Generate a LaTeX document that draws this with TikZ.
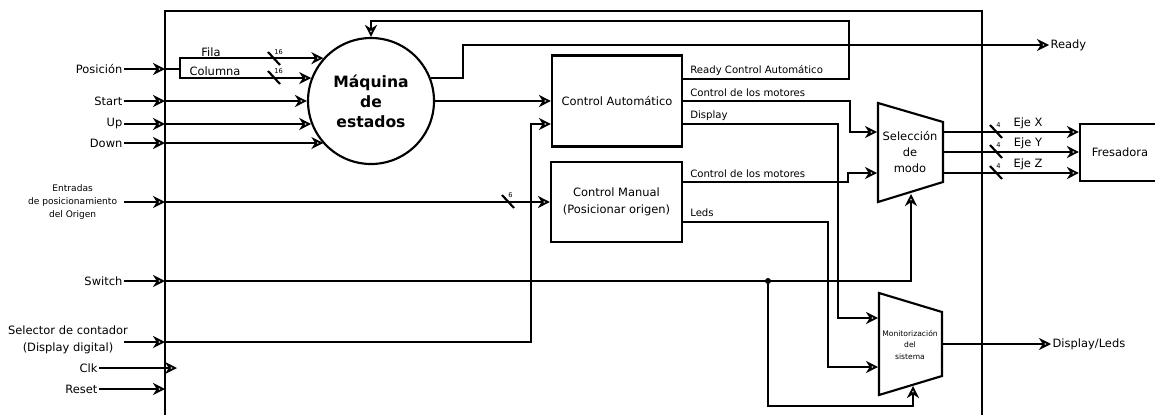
\documentclass[tikz,border=0pt]{standalone}
\usepackage{fontspec}
\setmainfont{DejaVu Sans}
\usetikzlibrary{arrows.meta,calc}
\tikzset{
  wire/.style={line width=1.6pt},
  sig/.style={wire,-{Stealth[open,length=9pt,width=9pt,inset=2.8pt,line width=1.4pt]}},
  frame/.style={line width=1.7pt},
  blk/.style={draw,line width=1.6pt,inner sep=0pt,align=center,
    font=\fontsize{8.6}{12.75}\selectfont},
  inlbl/.style={font=\fontsize{8.6}{12.75}\selectfont,inner sep=1pt,align=center},
  outlbl/.style={font=\fontsize{7.6}{9}\selectfont,inner sep=0pt,anchor=west},
  buslbl/.style={font=\fontsize{5}{6}\selectfont,inner sep=0pt,anchor=west},
  jdot/.style={circle,fill=black,inner sep=0pt,minimum size=4.5pt},
  % ---- the two selector shapes ----
  muxtxt/.style={inner sep=0pt,align=center},
}

\begin{document}
\begin{tikzpicture}[x=0.75pt,y=-0.75pt]
  \useasboundingbox (0,0) rectangle (1155,414);
  % outer block, bottom edge runs off the page
  \draw[frame] (165,420) |- (982,11) -- (982,420);
  \coordinate (bx) at (165,0);

  % external inputs
  \node[inlbl,anchor=east] (pos) at (124,69) {Posición};
  \node[inlbl,anchor=east] (start) at (124,101) {Start};
  \node[inlbl,anchor=east] (up) at (124,124) {Up};
  \node[inlbl,anchor=east] (down) at (124,143) {Down};
  \node[inlbl,anchor=east,inner xsep=5pt,font=\fontsize{6.8}{10}\selectfont] (orig) at (124,202)
    {Entradas\\de posicionamiento\\del Origen};
  \node[inlbl,anchor=east] (sw) at (124,281) {Switch};
  \node[inlbl] (selc) at (68,340) {Selector de contador\\(Display digital)};
  \coordinate (selcw) at (124,342);
  \node[inlbl,anchor=east] (clk) at (99,368) {Clk};
  \node[inlbl,anchor=east] (rst) at (99,389) {Reset};
  \foreach \n in {pos,start,up,down,orig,sw,rst}
    \draw[sig] (\n.east) -- (\n.east -| bx);
  \draw[sig] (selcw) -- (selcw -| bx);
  \draw[sig] (clk.east) -- (177,368);

  % blocks
  \node[circle,draw,line width=1.6pt,minimum size=94.5pt,inner sep=0pt,align=center,
    font=\fontsize{11.7}{15}\selectfont\bfseries] (fsm) at (371,101) {Máquina\\de\\estados};
  \node[blk,minimum width=97.5pt,minimum height=68.25pt] (ca) at (617,101) {Control Automático};
  \node[blk,minimum width=98.25pt,minimum height=60pt] (cm) at (616.5,202)
    {Control Manual\\(Posicionar origen)};
  \node[blk,minimum width=60pt,minimum height=42.75pt] (mill) at (1120,152.5) {Fresadora};

  % mode selector
  \draw[wire] (878,103) -- (943,122) -- (943,182) -- (878,202) -- cycle;
  \node[muxtxt,font=\fontsize{8.6}{12}\selectfont] (sel) at (910,152) {Selección\\de\\modo};
  \coordinate (selA) at (877,132);
  \coordinate (selB) at (877,173);
  \coordinate (selS) at (911,194);
  % monitor selector
  \draw[wire] (879,293) -- (942,312) -- (942,376) -- (879,395) -- cycle;
  \node[muxtxt,font=\fontsize{5.7}{8.6}\selectfont] (mon) at (910,345)
    {Monitorización\\del\\sistema};
  \coordinate (monA) at (878,318);
  \coordinate (monB) at (878,367);
  \coordinate (monS) at (913,386);
  \coordinate (monO) at (942,344);

  % position bus into the state machine
  \draw[wire] (pos.east -| bx) -- ++(15,0) coordinate (fork);
  \draw[sig] (fork) |- (fsm.138);
  \draw[sig] (fork) |- (fsm.159);
  \node[inlbl] (fila) at (211,52) {Fila};
  \node[inlbl] (colu) at (215,71) {Columna};
  \draw[sig] (start.east -| bx) -- (fsm.west);
  \draw[sig] (up.east -| bx) -- (up.east -| fsm.201);
  \draw[sig] (down.east -| bx) -- (down.east -| fsm.222);

  % state machine outputs
  \node[inlbl,anchor=west] (rdy) at (1049,45) {Ready};
  \draw[sig] (fsm.21) -- ++(32,0) |- (rdy.west);
  \draw[sig] (fsm.east) -- (ca.west);

  % automatic control
  \coordinate (caRdy) at (682,79);
  \coordinate (caDsp) at (682,124);
  \coordinate (caIn) at ($(ca.west)+(0,23)$);
  \draw[sig] (caRdy) -- ++(167,0) -- ++(0,-58) -| (fsm.north);
  \draw[sig] (ca.east) -- ++(167,0) |- (selA);
  \draw[sig] (caDsp) -- ++(156,0) |- (monA);
  \node[outlbl] (lrca) at (690,71) {Ready Control Automático};
  \node[outlbl] (lmca) at (690,93) {Control de los motores};
  \node[outlbl] (ldsp) at (690,116) {Display};
  \draw[sig] (selcw -| bx) -- ++(366,0) |- (caIn);

  % manual control
  \coordinate (cmMot) at (682,182);
  \coordinate (cmLed) at (682,222);
  \draw[sig] (orig.east -| bx) -- (cm.west);
  \draw[sig] (cmMot) -- ++(166,0) |- (selB);
  \draw[sig] (cmLed) -- ++(146,0) |- (monB);
  \node[outlbl] (lmcm) at (690,174) {Control de los motores};
  \node[outlbl] (lled) at (690,213) {Leds};

  % switch to both selectors
  \node[jdot] (jn) at (768,281) {};
  \draw[sig] (sw.east -| bx) -| (selS);
  \draw[sig] (jn) -- ++(0,125) -| (monS);

  % axes to the mill
  \foreach \e/\y in {X/132,Y/152,Z/173}{
    \coordinate (selo\e) at (943,\y);
    \draw[sig] (selo\e) -- (selo\e -| mill.west);
    \node[inlbl] (eje\e) at (1028,\y-9) {Eje \e};
  }
  \node[inlbl,anchor=west] (dl) at (1051,344) {Display/Leds};
  \draw[sig] (monO) -- (dl.west);

  % bus width marks
  \foreach \bx/\by/\bw in {274/59/16,274/78/16,508/202/6,996/132/4,996/152/4,996/173/4}{
    \draw[wire] (\bx-6,\by-7) -- (\bx+6,\by+6);
    \node[buslbl] (bw\bx-\by) at (\bx,\by-7) {\bw};
  }
\end{tikzpicture}
\end{document}
